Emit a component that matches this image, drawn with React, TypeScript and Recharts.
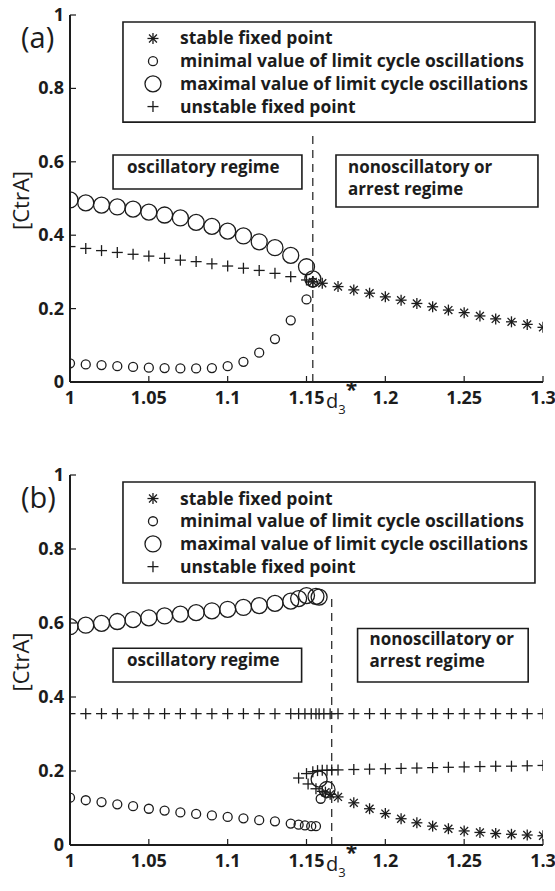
import { ReferenceArea, ReferenceLine, Scatter, ScatterChart, XAxis, YAxis } from "recharts";

const INK = "#1c1c1c";
const FONT = "'Open Sans', sans-serif";

const xTicks = [1, 1.05, 1.1, 1.15, 1.2, 1.25, 1.3];
const xTickLabels = ["1", "1.05", "1.1", "1.15", "1.2", "1.25", "1.3"];
const yTicks = [0, 0.2, 0.4, 0.6, 0.8, 1];
const yTickLabels = ["0", "0.2", "0.4", "0.6", "0.8", "1"];

const legendLabels = [
  "stable fixed point",
  "minimal value of limit cycle oscillations",
  "maximal value of limit cycle oscillations",
  "unstable fixed point",
];
const oscLabel = ["oscillatory regime"];
const arrestLabel = ["nonoscillatory or", "arrest regime"];

// panel (a)
const aStableX = [1.154, 1.16, 1.17, 1.18, 1.19, 1.2, 1.21, 1.22, 1.23, 1.24, 1.25, 1.26, 1.27, 1.28, 1.29, 1.3];
const aStableY = [0.273, 0.269, 0.26, 0.251, 0.242, 0.232, 0.223, 0.214, 0.205, 0.196, 0.189, 0.18, 0.172, 0.164, 0.157, 0.149];
const aCycleX = [1, 1.01, 1.02, 1.03, 1.04, 1.05, 1.06, 1.07, 1.08, 1.09, 1.1, 1.11, 1.12, 1.13, 1.14, 1.15, 1.154];
const aMinY = [0.051, 0.048, 0.046, 0.043, 0.041, 0.039, 0.038, 0.037, 0.037, 0.038, 0.043, 0.055, 0.08, 0.117, 0.168, 0.225, 0.271];
const aMaxY = [0.496, 0.488, 0.482, 0.477, 0.471, 0.463, 0.455, 0.447, 0.435, 0.424, 0.411, 0.398, 0.382, 0.366, 0.345, 0.314, 0.281];
const aUnstableY = [0.369, 0.364, 0.358, 0.353, 0.348, 0.343, 0.337, 0.332, 0.328, 0.322, 0.316, 0.31, 0.304, 0.296, 0.287, 0.278, 0.273];

// panel (b)
const bStableX = [1.162, 1.165, 1.17, 1.18, 1.19, 1.2, 1.21, 1.22, 1.23, 1.24, 1.25, 1.26, 1.27, 1.28, 1.29, 1.3];
const bStableY = [0.143, 0.137, 0.13, 0.114, 0.098, 0.085, 0.071, 0.06, 0.051, 0.044, 0.038, 0.034, 0.031, 0.029, 0.027, 0.025];
const bMaxX = [1, 1.01, 1.02, 1.03, 1.04, 1.05, 1.06, 1.07, 1.08, 1.09, 1.1, 1.11, 1.12, 1.13, 1.14, 1.145, 1.15, 1.156, 1.158, 1.158, 1.163];
const bMaxY = [0.59, 0.594, 0.599, 0.604, 0.609, 0.614, 0.619, 0.624, 0.628, 0.633, 0.637, 0.642, 0.647, 0.653, 0.659, 0.666, 0.674, 0.672, 0.67, 0.178, 0.15];
const bMinX = [1, 1.01, 1.02, 1.03, 1.04, 1.05, 1.06, 1.07, 1.08, 1.09, 1.1, 1.11, 1.12, 1.13, 1.14, 1.145, 1.149, 1.153, 1.156, 1.159];
const bMinY = [0.128, 0.121, 0.116, 0.11, 0.105, 0.098, 0.093, 0.088, 0.084, 0.08, 0.076, 0.072, 0.067, 0.064, 0.058, 0.055, 0.053, 0.051, 0.051, 0.125];
const bTopUnstableX = [1, 1.01, 1.02, 1.03, 1.04, 1.05, 1.06, 1.07, 1.08, 1.09, 1.1, 1.11, 1.12, 1.13, 1.14, 1.145, 1.149, 1.153, 1.156, 1.158, 1.161, 1.165, 1.17, 1.18, 1.19, 1.2, 1.21, 1.22, 1.23, 1.24, 1.25, 1.26, 1.27, 1.28, 1.29, 1.3];
const bTopUnstableY = [0.355, 0.355, 0.355, 0.355, 0.355, 0.355, 0.355, 0.355, 0.355, 0.355, 0.355, 0.355, 0.355, 0.355, 0.355, 0.355, 0.355, 0.355, 0.355, 0.355, 0.355, 0.355, 0.355, 0.355, 0.355, 0.355, 0.355, 0.355, 0.355, 0.355, 0.355, 0.355, 0.355, 0.355, 0.355, 0.355];
const bMidUnstableX = [1.145, 1.15, 1.154, 1.157, 1.16, 1.163, 1.166, 1.17, 1.18, 1.19, 1.2, 1.21, 1.22, 1.23, 1.24, 1.25, 1.26, 1.27, 1.28, 1.29, 1.3];
const bMidUnstableY = [0.181, 0.193, 0.198, 0.201, 0.202, 0.202, 0.203, 0.203, 0.204, 0.205, 0.206, 0.207, 0.208, 0.209, 0.21, 0.211, 0.212, 0.213, 0.213, 0.214, 0.215];
const bLowUnstableX = [1.151, 1.156, 1.16];
const bLowUnstableY = [0.165, 0.152, 0.145];

const pts = (xs: number[], ys: number[]) => xs.map((x, i) => ({ x, y: ys[i] }));

function Star({ cx, cy }: any) {
  const r = 5.5;
  const d = r * 0.72;
  return (
    <g stroke={INK} strokeWidth={1.3}>
      <line x1={cx - r} y1={cy} x2={cx + r} y2={cy} />
      <line x1={cx} y1={cy - r} x2={cx} y2={cy + r} />
      <line x1={cx - d} y1={cy - d} x2={cx + d} y2={cy + d} />
      <line x1={cx - d} y1={cy + d} x2={cx + d} y2={cy - d} />
    </g>
  );
}

function Plus({ cx, cy }: any) {
  const r = 5.5;
  return (
    <g stroke={INK} strokeWidth={1.3}>
      <line x1={cx - r} y1={cy} x2={cx + r} y2={cy} />
      <line x1={cx} y1={cy - r} x2={cx} y2={cy + r} />
    </g>
  );
}

function Ring({ cx, cy, r }: any) {
  return <circle cx={cx} cy={cy} r={r} fill="none" stroke={INK} strokeWidth={1.3} />;
}

const markers = [
  (cx: number, cy: number) => <Star cx={cx} cy={cy} />,
  (cx: number, cy: number) => <Ring cx={cx} cy={cy} r={4.5} />,
  (cx: number, cy: number) => <Ring cx={cx} cy={cy} r={8} />,
  (cx: number, cy: number) => <Plus cx={cx} cy={cy} />,
];

function XTick({ x, y, payload }: any) {
  const i = xTicks.indexOf(payload.value);
  return (
    <g>
      <line x1={x} x2={x} y1={y} y2={y - 6} stroke={INK} strokeWidth={1.2} />
      <text x={x} y={y + 22} textAnchor="middle" fontFamily={FONT} fontWeight={700} fontSize={18} fill={INK}>
        {xTickLabels[i]}
      </text>
    </g>
  );
}

function YTick({ x, y, payload }: any) {
  const i = yTicks.indexOf(payload.value);
  return (
    <g>
      <line x1={x} x2={x + 6} y1={y} y2={y} stroke={INK} strokeWidth={1.2} />
      <text x={x - 6} y={y + 6} textAnchor="end" fontFamily={FONT} fontWeight={700} fontSize={18} fill={INK}>
        {yTickLabels[i]}
      </text>
    </g>
  );
}

const TopTick = ({ x, y }: any) => <line x1={x} x2={x} y1={y} y2={y + 6} stroke={INK} strokeWidth={1.2} />;
const RightTick = ({ x, y }: any) => <line x1={x} x2={x - 6} y1={y} y2={y} stroke={INK} strokeWidth={1.2} />;

function LegendRows({ viewBox }: any) {
  const { x, y } = viewBox;
  return (
    <g>
      {legendLabels.map((t, i) => {
        const cy = y + 16.5 + i * 22.7;
        return (
          <g key={t}>
            {markers[i](x + 30, cy)}
            <text x={x + 57} y={cy + 6} fontFamily={FONT} fontWeight={700} fontSize={17.5} fill={INK}>
              {t}
            </text>
          </g>
        );
      })}
    </g>
  );
}

function BoxText({ viewBox, lines, dx, dy }: any) {
  return (
    <g>
      {lines.map((t: string, i: number) => (
        <text key={t} x={viewBox.x + dx} y={viewBox.y + dy + i * 22} fontFamily={FONT} fontWeight={700} fontSize={17} fill={INK}>
          {t}
        </text>
      ))}
    </g>
  );
}

function Panel(props: any) {
  const { tag, top, height, mTop, mBottom, stable, min, max, unstable, dashX, osc, arrest, arrestDy } = props;
  return (
    <div style={{ position: "absolute", left: 0, top }}>
      <ScatterChart width={555} height={height} margin={{ top: mTop, right: 12, bottom: mBottom, left: 0 }}>
        <XAxis
          type="number"
          dataKey="x"
          domain={[1, 1.3]}
          ticks={xTicks}
          allowDataOverflow
          height={30}
          tickSize={0}
          tickMargin={0}
          tickLine={false}
          tick={<XTick />}
          axisLine={{ stroke: INK, strokeWidth: 2 }}
          label={{
            content: ({ viewBox }: any) => (
              <text x={viewBox.x + 256} y={viewBox.y + 26} fontFamily={FONT} fontSize={20} fill={INK}>
                d
                <tspan dy={6} fontSize={13}>3</tspan>
                <tspan dx={0} dy={-17} fontSize={21} fontWeight={700}>*</tspan>
              </text>
            ),
          }}
        />
        <XAxis xAxisId="top" orientation="top" type="number" domain={[1, 1.3]} ticks={xTicks} height={0}
          tickSize={0} tickMargin={0} tickLine={false} tick={<TopTick />} axisLine={{ stroke: INK, strokeWidth: 2 }} />
        <YAxis
          type="number"
          dataKey="y"
          domain={[0, 1]}
          ticks={yTicks}
          allowDataOverflow
          width={70}
          tickSize={0}
          tickMargin={0}
          tickLine={false}
          tick={<YTick />}
          axisLine={{ stroke: INK, strokeWidth: 2 }}
          label={{
            content: ({ viewBox }: any) => {
              const cy = viewBox.y + viewBox.height / 2 + 2;
              return (
                <text x={29} y={cy} transform={`rotate(-90 29 ${cy})`} textAnchor="middle" fontFamily={FONT} fontSize={22} fill={INK}>
                  [CtrA]
                </text>
              );
            },
          }}
        />
        <YAxis yAxisId="r" orientation="right" type="number" domain={[0, 1]} ticks={yTicks} width={0}
          tickSize={0} tickMargin={0} tickLine={false} tick={<RightTick />} axisLine={{ stroke: INK, strokeWidth: 2 }} />

        <ReferenceArea x1={1.0336} x2={1.2949} y1={0.708} y2={0.981} fill="#fff" fillOpacity={1} stroke={INK} strokeWidth={1.6}
          label={{ content: (p: any) => <LegendRows viewBox={p.viewBox} /> }} />
        <ReferenceArea x1={osc[0]} x2={osc[1]} y1={osc[2]} y2={osc[3]} fill="#fff" fillOpacity={1} stroke={INK} strokeWidth={1.6}
          label={{ content: (p: any) => <BoxText viewBox={p.viewBox} lines={oscLabel} dx={14} dy={18} /> }} />
        <ReferenceArea x1={arrest[0]} x2={arrest[1]} y1={arrest[2]} y2={arrest[3]} fill="#fff" fillOpacity={1} stroke={INK} strokeWidth={1.6}
          label={{ content: (p: any) => <BoxText viewBox={p.viewBox} lines={arrestLabel} dx={12} dy={arrestDy} /> }} />
        <ReferenceLine segment={[{ x: dashX, y: 0 }, { x: dashX, y: 0.68 }]} stroke={INK} strokeWidth={1.2} strokeDasharray="8 6" />

        <Scatter data={unstable} isAnimationActive={false} shape={(p: any) => <Plus cx={p.cx} cy={p.cy} />} />
        <Scatter data={min} isAnimationActive={false} shape={(p: any) => <Ring cx={p.cx} cy={p.cy} r={4.5} />} />
        <Scatter data={max} isAnimationActive={false} shape={(p: any) => <Ring cx={p.cx} cy={p.cy} r={8} />} />
        <Scatter data={stable} isAnimationActive={false} shape={(p: any) => <Star cx={p.cx} cy={p.cy} />} />
      </ScatterChart>
      <div style={{ position: "absolute", left: 21, top: mTop + 6, fontFamily: FONT, fontSize: 29, color: INK, lineHeight: "32px" }}>
        {tag}
      </div>
    </div>
  );
}

export default function App() {
  return (
    <div style={{ position: "absolute", left: 0, top: 0, width: 555, height: 891, background: "#fff" }}>
      <Panel
        tag="(a)"
        top={0}
        height={445}
        mTop={15}
        mBottom={33}
        stable={pts(aStableX, aStableY)}
        min={pts(aCycleX, aMinY)}
        max={pts(aCycleX, aMaxY)}
        unstable={pts(aCycleX, aUnstableY)}
        dashX={1.154}
        osc={[1.0273, 1.1471, 0.526, 0.6185]}
        arrest={[1.1687, 1.2968, 0.477, 0.6185]}
        arrestDy={18}
      />
      <Panel
        tag="(b)"
        top={459}
        height={432}
        mTop={16}
        mBottom={16}
        stable={pts(bStableX, bStableY)}
        min={pts(bMinX, bMinY)}
        max={pts(bMaxX, bMaxY)}
        unstable={[...pts(bTopUnstableX, bTopUnstableY), ...pts(bMidUnstableX, bMidUnstableY), ...pts(bLowUnstableX, bLowUnstableY)]}
        dashX={1.166}
        osc={[1.0273, 1.1469, 0.4405, 0.5316]}
        arrest={[1.1824, 1.2906, 0.4405, 0.585]}
        arrestDy={16}
      />
    </div>
  );
}
